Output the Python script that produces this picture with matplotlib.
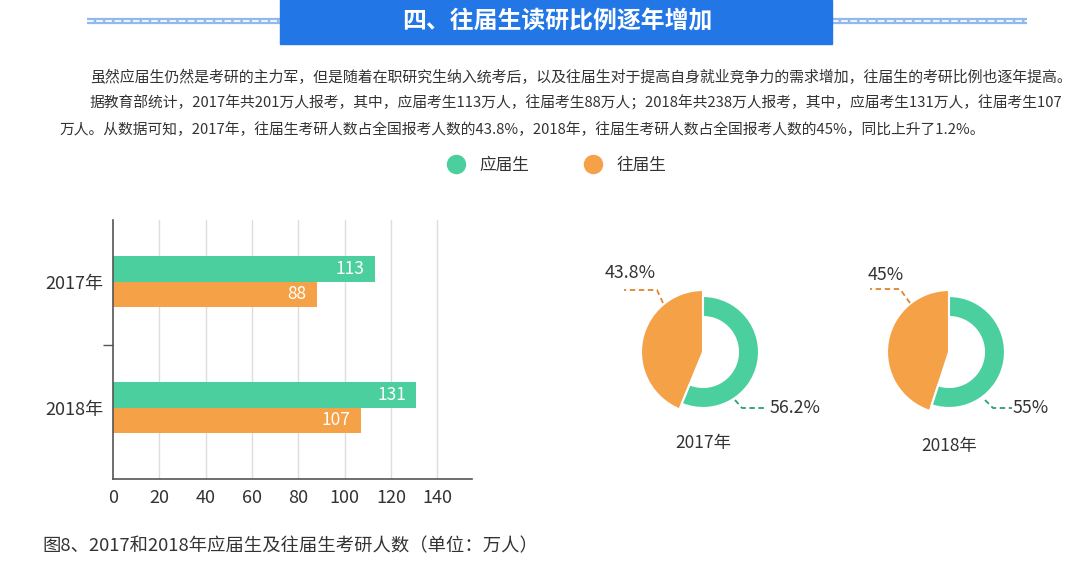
import matplotlib
matplotlib.use("Agg")
import matplotlib.pyplot as plt
from matplotlib.patches import Rectangle
from matplotlib.lines import Line2D

plt.rcParams['font.family'] = ['Noto Sans CJK SC', 'DejaVu Sans']

# data
years = ['2017年', '2018年']
fresh = [113, 131]          # 应届生 (万人)
past = [88, 107]            # 往届生 (万人)
share_past = [43.8, 45]     # 往届生占比 %
share_fresh = [56.2, 55]    # 应届生占比 %
share_past_txt = ['43.8%', '45%']
share_fresh_txt = ['56.2%', '55%']
xticks = [0, 20, 40, 60, 80, 100, 120, 140]

title = '四、往届生读研比例逐年增加'
para = [
    '虽然应届生仍然是考研的主力军，但是随着在职研究生纳入统考后，以及往届生对于提高自身就业竞争力的需求增加，往届生的考研比例也逐年提高。',
    '据教育部统计，2017年共201万人报考，其中，应届考生113万人，往届考生88万人；2018年共238万人报考，其中，应届考生131万人，往届考生107',
    '万人。从数据可知，2017年，往届生考研人数占全国报考人数的43.8%，2018年，往届生考研人数占全国报考人数的45%，同比上升了1.2%。',
]
caption = '图8、2017和2018年应届生及往届生考研人数（单位：万人）'

GREEN = '#4ccf9f'
ORANGE = '#f5a147'
BLUE = '#2276e6'
TXT = '#333333'

W, H = 1080, 561
fig = plt.figure(figsize=(W / 100, H / 100), dpi=100)
fig.patch.set_facecolor('white')

# page layer in pixel coords
page = fig.add_axes([0, 0, 1, 1])
page.set_xlim(0, W)
page.set_ylim(H, 0)
page.axis('off')

# header banner with dashed side lines
page.add_patch(Rectangle((280, 0), 552, 44, color=BLUE, zorder=2))
page.text(557, 21, title, color='white', fontsize=17.2, fontweight='heavy',
          ha='center', va='center', zorder=3)
for x0, x1 in [(87, 280), (832, 1027)]:
    page.plot([x0, x1], [21, 21], color='#92b9ee', lw=4.5, solid_capstyle='butt', zorder=1)
    page.plot([x0, x1], [21, 21], color='white', lw=1.2, ls=(0, (4, 1.5)), zorder=1)

# paragraph
page.text(90, 77, para[0], color=TXT, fontsize=10.75, va='center')
page.text(90, 103, para[1], color=TXT, fontsize=10.65, va='center')
page.text(60, 130, para[2], color=TXT, fontsize=10.65, va='center')

# caption
page.text(42, 546, caption, color=TXT, fontsize=13.2, va='center')

# legend
handles = [Line2D([], [], marker='o', ls='', color=GREEN, markersize=13, label='应届生'),
           Line2D([], [], marker='o', ls='', color=ORANGE, markersize=13, label='往届生')]
fig.legend(handles=handles, loc='center', bbox_to_anchor=(557 / W, 1 - 165 / H), ncol=2,
           frameon=False, fontsize=12, handlelength=1.0, handletextpad=0.9,
           columnspacing=3.3, labelcolor=TXT)

# bar chart
ax = fig.add_axes([113 / W, 82 / H, 359 / W, 259 / H])
bh = 0.2
ypos = list(range(len(years)))
b1 = ax.barh([y - bh / 2 for y in ypos], fresh, height=bh, color=GREEN, zorder=2)
b2 = ax.barh([y + bh / 2 for y in ypos], past, height=bh, color=ORANGE, zorder=2)
for bars in (b1, b2):
    for rect in bars:
        v = rect.get_width()
        ax.text(v - 4.5, rect.get_y() + rect.get_height() / 2, f'{v:g}', color='white',
                fontsize=12.5, ha='right', va='center', zorder=3)
ax.set_xlim(0, 155)
ax.set_ylim(1.567, -0.488)
ax.set_xticks(xticks)
ax.set_xticklabels([str(t) for t in xticks], fontsize=13, color=TXT)
ax.tick_params(axis='x', length=0, pad=7)
ax.set_yticks([0.5])
ax.set_yticklabels([''])
ax.tick_params(axis='y', length=7, color='#555555', width=1)
ax.set_yticks(ypos, minor=True)
ax.set_yticklabels(years, minor=True, fontsize=13, color=TXT)
ax.tick_params(axis='y', which='minor', length=0, pad=7)
for t in xticks[1:]:
    ax.axvline(t, color='#dddddd', lw=1, zorder=1)
for s in ('top', 'right'):
    ax.spines[s].set_visible(False)
for s in ('left', 'bottom'):
    ax.spines[s].set_color('#555555')
    ax.spines[s].set_linewidth(1.2)

# donuts
centers = [(703, 352), (949, 352)]
leaders_past = [[(-40, 49), (-46, 62), (-79, 62)], [(-39, 49), (-49, 63), (-79, 63)]]
leaders_fresh = [[(32, -48), (39, -56), (62, -56)], [(36, -48), (44, -56), (63, -56)]]
past_lbl_pos = [(-98, 79), (-81, 77)]
fresh_lbl_pos = [(67, -56), (64, -56)]
year_lbl_y = [-91, -94]
for i, (cx, cy) in enumerate(centers):
    d = fig.add_axes([(cx - 110) / W, (H - cy - 110) / H, 220 / W, 220 / H])
    wedges, _ = d.pie([share_past[i], share_fresh[i]], colors=[ORANGE, GREEN], startangle=90,
                      counterclock=True, radius=62,
                      wedgeprops=dict(edgecolor='white', linewidth=1.5))
    wedges[1].set_radius(56)
    wedges[1].set_width(21)
    d.set_xlim(-110, 110)
    d.set_ylim(-110, 110)
    d.set_aspect('equal')
    d.axis('off')
    lp = leaders_past[i]
    d.plot([p[0] for p in lp], [p[1] for p in lp], color='#e0852f', lw=1.3, ls=(0, (3, 2)))
    d.text(past_lbl_pos[i][0], past_lbl_pos[i][1], share_past_txt[i],
           color=TXT, fontsize=12.8, ha='left', va='center')
    lf = leaders_fresh[i]
    d.plot([p[0] for p in lf], [p[1] for p in lf], color='#2e9d76', lw=1.3, ls=(0, (3, 2)))
    d.text(fresh_lbl_pos[i][0], fresh_lbl_pos[i][1], share_fresh_txt[i], color=TXT,
           fontsize=12.8, ha='left', va='center')
    d.text(0, year_lbl_y[i], years[i], color=TXT, fontsize=12.5, ha='center', va='center')

fig.savefig('out.png', dpi=100, facecolor='white')
